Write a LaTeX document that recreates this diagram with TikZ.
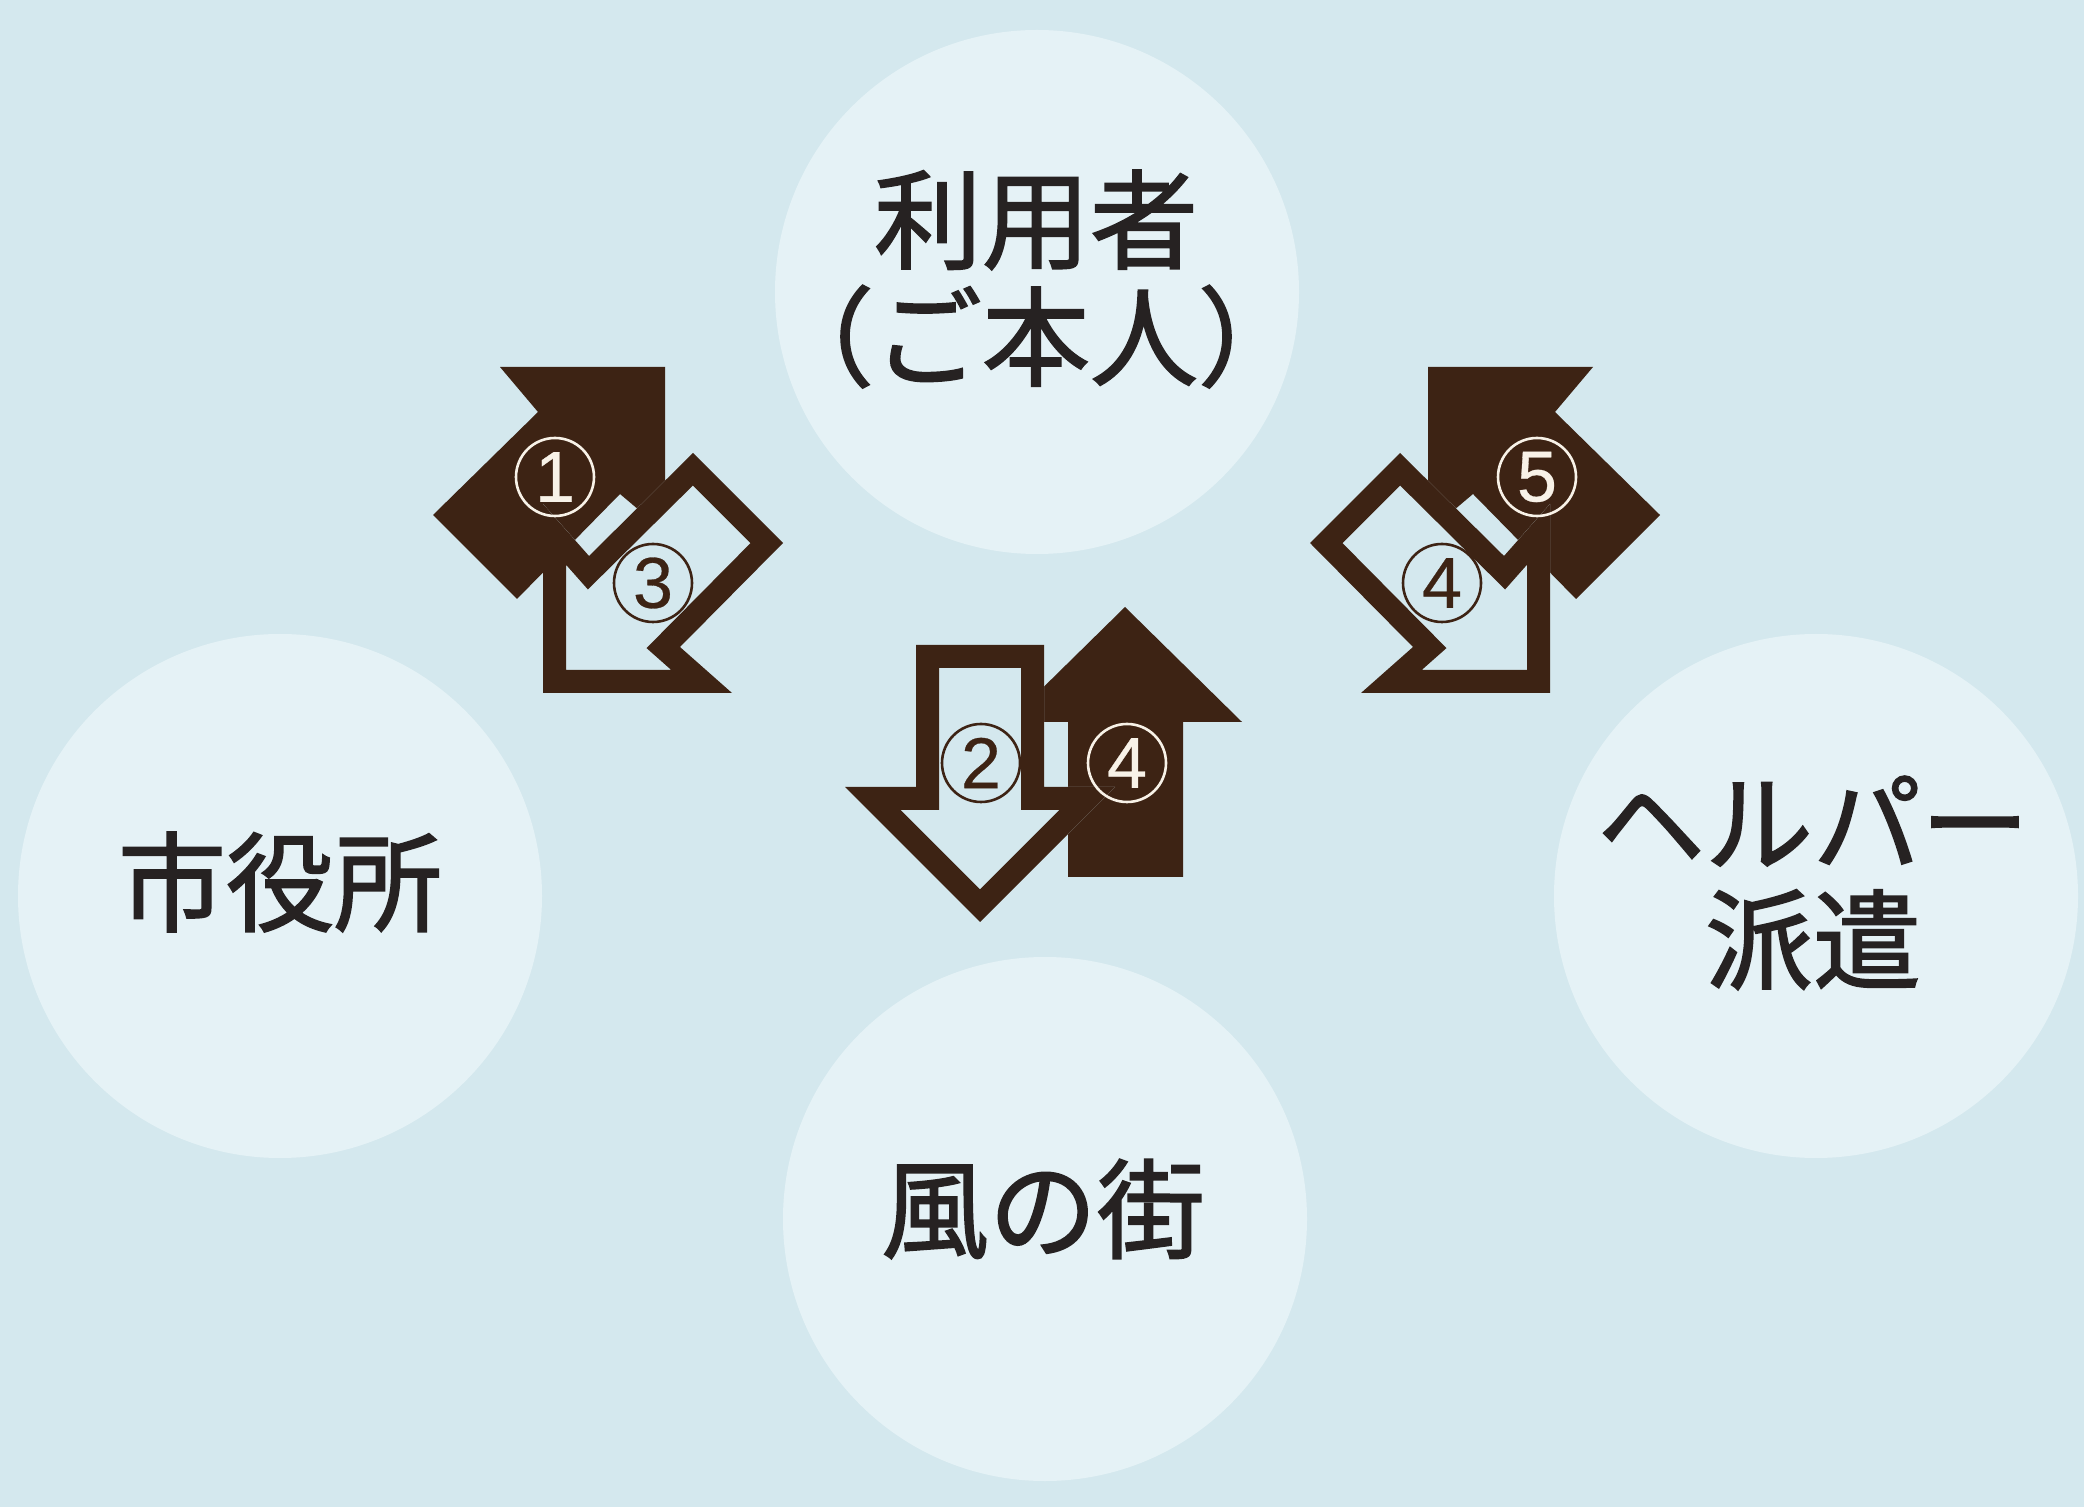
\documentclass[tikz,border=0pt]{standalone}
\usepackage{fontspec}
\setmainfont{Noto Sans CJK JP}
\newfontfamily\labelfont[FakeBold=1.6]{Noto Sans CJK JP}
\newfontfamily\digitfont[FakeBold=0.4]{Liberation Sans}
\definecolor{bgblue}{RGB}{212,232,238}
\definecolor{disccol}{RGB}{229,242,246}
\definecolor{arrowbrown}{RGB}{61,35,20}
\definecolor{ink}{RGB}{38,34,34}
\definecolor{cream}{RGB}{248,242,232}
\begin{document}
\begin{tikzpicture}[x=0.5pt,y=-0.5pt,
  discnode/.style={circle, fill=disccol, inner sep=0pt, minimum size=262pt},
  bigtext/.style={text=ink, align=center, inner sep=0pt, font={\labelfont\fontsize{54}{58.5}\selectfont}},
  numring/.style={circle, inner sep=0pt, minimum size=39pt, line width=1.3pt, font={\digitfont\fontsize{36}{36}\selectfont}},
  numdark/.style={numring, draw=arrowbrown, text=arrowbrown},
  numlight/.style={numring, draw=cream, text=cream},
  band/.style={draw=arrowbrown, line width=23pt, line join=miter}]
\fill[bgblue] (0,0) rectangle (2084,1507);
\useasboundingbox (0,0) rectangle (2084,1507);

% discs
\node[discnode] (user) at (1037,292) {};
\node[discnode] (city) at (280,896) {};
\node[discnode] (kaze) at (1045,1219) {};
\node[discnode] (helper) at (1816,896) {};

% labels
\node[bigtext] (userlbl) at (1036,279) {利用者\\（ご本人）};
\node[bigtext] (citylbl) at (280,882) {市役所};
\node[bigtext] (kazelbl) at (1043,1209) {風の街};
\node[bigtext] (helperlbl) at (1813,883) {ヘルパー\\派遣};

% left group and mirrored right group
\foreach \sx/\dx in {1/0,-1/2093}{
\begin{scope}[shift={(\dx,0)}, xscale=\sx]
  \fill[arrowbrown] (500,367) -- (665,367) -- (665,532) -- (620,494) -- (517,599) -- (433,515) -- (538,412) -- cycle;
  \fill[bgblue] (543,693) -- (732,693) -- (680,647) -- (783,543) -- (693,453) -- (589,556) -- (543,504) -- cycle;
  \begin{scope}
    \clip (543,693) -- (732,693) -- (680,647) -- (783,543) -- (693,453) -- (589,556) -- (543,504) -- cycle;
    \draw[band] (543,693) -- (732,693) -- (680,647) -- (783,543) -- (693,453) -- (589,556) -- (543,504) -- cycle;
  \end{scope}
\end{scope}
}

% centre group
\fill[arrowbrown] (1125,607) -- (1242,722) -- (1183,722) -- (1183,877) -- (1068,877) -- (1068,722) -- (1008,722) -- cycle;
\fill[bgblue] (916,645) -- (1044,645) -- (1044,787) -- (1115,787) -- (980,922) -- (845,787) -- (916,787) -- cycle;
\begin{scope}
  \clip (916,645) -- (1044,645) -- (1044,787) -- (1115,787) -- (980,922) -- (845,787) -- (916,787) -- cycle;
  \draw[band] (916,645) -- (1044,645) -- (1044,787) -- (1115,787) -- (980,922) -- (845,787) -- (916,787) -- cycle;
\end{scope}

% numbers
\node[numlight] (n1) at (555,477) {1};
\node[numdark] (n3) at (653,583) {3};
\node[numdark] (n2) at (981,763) {2};
\node[numlight] (n4a) at (1127,763) {4};
\node[numlight] (n5) at (1537,477) {5};
\node[numdark] (n4b) at (1442,583) {4};
\end{tikzpicture}
\end{document}
